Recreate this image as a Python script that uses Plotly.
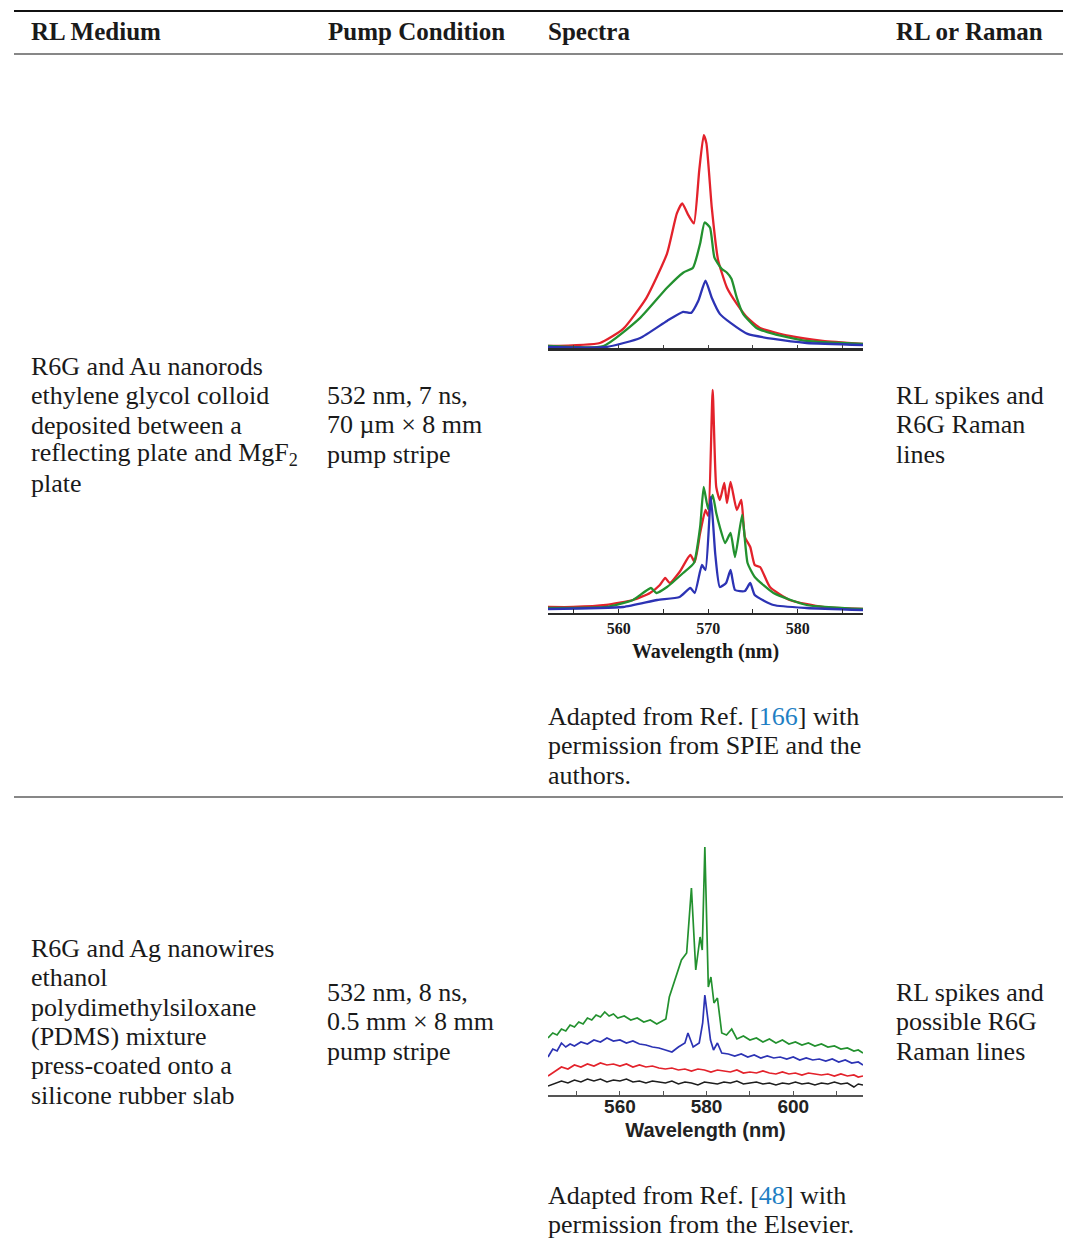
import plotly.graph_objects as go

W, H = 1067, 1241

# ---------------- data ----------------
# Panel 1 (top spectra, R6G + Au nanorods, lower pump)
p1_red_wl = [552.1, 557.9, 560.5, 563.1, 565.4, 566.5, 567.1, 567.8, 568.4, 569.0, 569.5, 569.8, 570.4, 571.1, 572.1, 573.2, 574.4, 575.8, 579.1, 582.8, 587.3]
p1_red = [2, 5, 19, 50, 94, 134, 144, 132, 124, 177, 212, 204, 140, 88, 60, 44, 30, 20, 12, 7, 4]
p1_green_wl = [552.1, 558.3, 562.4, 565.4, 567.2, 568.3, 569.1, 569.6, 570.2, 570.7, 571.5, 572.1, 572.6, 573.2, 573.9, 575.4, 577.3, 581.0, 587.3]
p1_green = [2, 2, 30, 60, 75, 80, 104, 125, 120, 90, 79, 75, 69, 50, 34, 20, 14, 7, 4]
p1_blue_wl = [552.1, 558.6, 562.4, 565.4, 567.2, 568.1, 568.9, 569.7, 570.4, 571.3, 572.5, 574.4, 577.3, 581.0, 587.3]
p1_blue = [1, 1, 10, 27, 36, 35, 47, 67, 50, 34, 25, 14, 9, 5, 3]

# Panel 2 (middle spectra, higher pump, RL spikes)
p2_red_wl = [552.1, 554.9, 558.6, 561.6, 563.5, 564.6, 565.2, 565.7, 566.8, 568.0, 568.5, 569.1, 569.7, 570.0, 570.5, 570.9, 571.3, 571.8, 572.1, 572.5, 573.2, 573.7, 574.1, 574.7, 575.2, 575.8, 576.9, 579.1, 582.8, 587.3]
p2_red = [6, 6, 8, 13, 20, 28, 35, 30, 41, 58, 51, 80, 103, 97, 223, 126, 113, 130, 110, 131, 103, 113, 76, 66, 48, 46, 26, 13, 6, 4]
p2_green_wl = [552.1, 558.6, 561.6, 563.6, 564.2, 565.4, 567.2, 568.4, 569.1, 569.5, 570.0, 570.5, 570.9, 571.3, 571.9, 572.5, 573.0, 573.8, 574.4, 575.2, 577.3, 581.0, 587.3]
p2_green = [5, 6, 13, 25, 20, 26, 40, 50, 86, 126, 104, 118, 100, 86, 70, 80, 56, 98, 50, 36, 20, 8, 4]
p2_blue_wl = [552.1, 560.5, 564.3, 566.8, 568.0, 568.5, 569.3, 569.7, 570.3, 570.8, 571.3, 572.0, 572.5, 573.0, 574.1, 574.7, 575.2, 577.3, 581.0, 587.3]
p2_blue = [4, 6, 13, 16, 25, 20, 48, 43, 116, 58, 26, 30, 43, 23, 22, 30, 18, 8, 5, 3]

# Panel 3 (R6G + Ag nanowires in PDMS)
p3_green_wl = [543.4, 544.5, 545.5, 546.5, 547.5, 548.5, 549.5, 550.5, 551.5, 552.5,
               553.5, 554.5, 555.5, 556.5, 557.5, 558.5, 559.5, 561.0, 562.5, 564.0,
               565.5, 567.0, 568.5, 569.8, 570.6, 571.4, 572.3, 573.1, 574.2, 575.4,
               576.5, 577.5, 578.5, 579.0, 579.6, 580.4, 581.0, 581.7, 582.5, 583.5,
               584.6, 585.8, 587.0, 588.5, 590.0, 591.5, 593.0, 594.5, 596.0, 597.5,
               599.0, 600.5, 602.0, 603.5, 605.0, 606.5, 608.0, 609.5, 611.0, 612.5,
               614.0, 615.0, 616.1]
p3_green = [57, 62, 60, 66, 64, 70, 68, 73, 71, 77,
            75, 80, 78, 83, 79, 81, 77, 79, 75, 77,
            73, 75, 71, 74, 76, 98, 110, 122, 135, 142,
            207, 125, 158, 145, 248, 108, 118, 92, 97, 62,
            60, 66, 56, 59, 55, 57, 53, 56, 52, 55,
            51, 53, 50, 52, 49, 51, 48, 49, 46, 47,
            44, 45, 42]
p3_blue_wl = [543.4, 544.5, 545.5, 546.5, 547.5, 548.5, 549.5, 551.0, 552.5, 554.0,
              555.5, 557.0, 558.5, 560.0, 561.5, 563.0, 564.5, 566.0, 567.5, 569.0,
              570.5, 572.0, 573.5, 575.0, 575.7, 576.9, 578.3, 579.1, 579.6, 580.2,
              580.9, 581.6, 582.5, 583.5, 585.0, 586.5, 588.0, 589.5, 591.0, 592.5,
              594.0, 595.5, 597.0, 598.5, 600.0, 601.5, 603.0, 604.5, 606.0, 607.5,
              609.0, 610.5, 612.0, 613.5, 615.0, 616.1]
p3_blue = [38, 46, 44, 52, 48, 51, 49, 53, 51, 55,
           53, 57, 54, 55, 52, 54, 51, 50, 48, 47,
           45, 43, 48, 52, 62, 48, 52, 72, 100, 78,
           55, 45, 52, 42, 41, 39, 41, 38, 40, 37,
           39, 37, 38, 36, 38, 35, 37, 35, 36, 34,
           36, 33, 35, 32, 33, 30]
p3_base_wl = [543.4, 545.0, 546.5, 548.0, 549.5, 551.0, 552.5, 554.0, 555.5, 557.0,
              558.5, 560.0, 561.5, 563.0, 564.5, 566.0, 567.5, 569.0, 570.5, 572.0,
              573.5, 575.0, 576.5, 578.0, 579.5, 581.0, 582.5, 584.0, 585.5, 587.0,
              588.5, 590.0, 591.5, 593.0, 594.5, 596.0, 597.5, 599.0, 600.5, 602.0,
              603.5, 605.0, 606.5, 608.0, 609.5, 611.0, 612.5, 614.0, 615.0, 616.1]
p3_red = [19, 24, 28, 26, 30, 28, 31, 29, 32, 30,
          31, 29, 31, 28, 30, 28, 29, 27, 26, 27,
          25, 26, 24, 26, 25, 23, 25, 24, 23, 25,
          22, 23, 22, 24, 22, 21, 23, 21, 22, 20,
          22, 21, 20, 21, 19, 21, 19, 20, 18, 19]
p3_black = [9, 12, 14, 12, 15, 13, 16, 14, 16, 13,
            15, 14, 16, 13, 14, 12, 14, 13, 12, 14,
            11, 13, 12, 10, 13, 12, 11, 13, 12, 14,
            11, 12, 13, 11, 12, 10, 12, 11, 13, 11,
            12, 10, 12, 11, 13, 11, 12, 8, 11, 10]

headers = ["RL Medium", "Pump Condition", "Spectra", "RL or Raman"]
row1_medium = ["R6G and Au nanorods", "ethylene glycol colloid", "deposited between a",
               "reflecting plate and MgF<sub>2</sub>", "plate"]
row1_pump = ["532 nm, 7 ns,", "70 µm × 8 mm", "pump stripe"]
row1_type = ["RL spikes and", "R6G Raman", "lines"]
row1_caption = ["Adapted from Ref. [<span style='color:#1f7fc4'>166</span>] with",
                "permission from SPIE and the", "authors."]
row2_medium = ["R6G and Ag nanowires", "ethanol", "polydimethylsiloxane", "(PDMS) mixture",
               "press-coated onto a", "silicone rubber slab"]
row2_pump = ["532 nm, 8 ns,", "0.5 mm × 8 mm", "pump stripe"]
row2_type = ["RL spikes and", "possible R6G", "Raman lines"]
row2_caption = ["Adapted from Ref. [<span style='color:#1f7fc4'>48</span>] with",
                "permission from the Elsevier."]

RED, GREEN, BLUE, BLACK = "#e3222b", "#23912f", "#2c33b4", "#1e1e1e"


def px(x):
    return x / W


def py(y):
    return 1 - y / H


fig = go.Figure()


def add(xs, ys, color, ax, w, spline=True):
    line = dict(color=color, width=w)
    if spline:
        line.update(shape="spline", smoothing=0.5)
    fig.add_trace(go.Scatter(x=xs, y=ys, mode="lines", line=line,
                             xaxis="x" + ax, yaxis="y" + ax, showlegend=False, hoverinfo="skip"))


add(p1_red_wl, p1_red, RED, "", 2.3)
add(p1_green_wl, p1_green, GREEN, "", 2.3)
add(p1_blue_wl, p1_blue, BLUE, "", 2.3)
add(p2_red_wl, p2_red, RED, "2", 2.3)
add(p2_green_wl, p2_green, GREEN, "2", 2.3)
add(p2_blue_wl, p2_blue, BLUE, "2", 2.3)
add(p3_base_wl, p3_black, BLACK, "3", 1.5, False)
add(p3_base_wl, p3_red, RED, "3", 1.7, False)
add(p3_blue_wl, p3_blue, BLUE, "3", 1.7, False)
add(p3_green_wl, p3_green, GREEN, "3", 1.7, False)

xdom = [px(548), px(863)]
serif_tick = dict(family="Liberation Serif", size=16, color="#1a1a1a")
sans_tick = dict(family="Liberation Sans", size=19, color="#222")
yhidden = dict(visible=False, fixedrange=True)

fig.update_layout(
    width=W, height=H, autosize=False,
    margin=dict(l=0, r=0, t=0, b=0, pad=0),
    paper_bgcolor="white", plot_bgcolor="rgba(0,0,0,0)",
    showlegend=False,
    xaxis=dict(domain=xdom, range=[552.1, 587.3], anchor="y", showline=True, linecolor="#2a2a2a", linewidth=3,
               ticks="inside", ticklen=3, tickcolor="#444", tick0=560, dtick=5, showticklabels=False,
               showgrid=False, zeroline=False),
    yaxis=dict(domain=[py(348), py(105)], range=[0, 242], anchor="x", **yhidden),
    xaxis2=dict(domain=xdom, range=[552.1, 587.3], anchor="y2", showline=True, linecolor="#2a2a2a", linewidth=2,
                ticks="inside", ticklen=4, tickcolor="#2a2a2a", tick0=560, dtick=10,
                tickprefix="<b>", ticksuffix="</b>",
                minor=dict(dtick=5, tick0=555, ticks="inside", ticklen=4, tickcolor="#2a2a2a", showgrid=False),
                tickfont=serif_tick, showgrid=False, zeroline=False,
                title=dict(text="<b>Wavelength (nm)</b>",
                           font=dict(family="Liberation Serif", size=20, color="#1a1a1a"), standoff=8)),
    yaxis2=dict(domain=[py(613), py(385)], range=[0, 228], anchor="x2", **yhidden),
    xaxis3=dict(domain=xdom, range=[543.4, 616.1], anchor="y3", showline=True, linecolor="#555", linewidth=1.5,
                ticks="inside", ticklen=4, tickcolor="#555", tick0=560, dtick=20,
                tickprefix="<b>", ticksuffix="</b>", ticklabelstandoff=-7,
                minor=dict(dtick=10, tick0=550, ticks="inside", ticklen=4, tickcolor="#555", showgrid=False),
                tickfont=sans_tick, showgrid=False, zeroline=False,
                title=dict(text="<b>Wavelength (nm)</b>",
                           font=dict(family="Liberation Sans", size=20, color="#222"), standoff=7)),
    yaxis3=dict(domain=[py(1095), py(840)], range=[0, 255], anchor="x3", **yhidden),
)

# ---------------- table rules ----------------


def hline(y, w):
    fig.add_shape(type="line", xref="paper", yref="paper", x0=px(14), x1=px(1063), y0=py(y), y1=py(y),
                  line=dict(color="#111", width=w))


hline(11, 2)
hline(54, 1.2)
hline(797, 1.2)

# ---------------- text ----------------
BODY = dict(family="Liberation Serif", size=26, color="#1a1a1a")
HEAD = dict(family="Liberation Serif", size=25, color="#1a1a1a")


def text(x, y, s, font):
    fig.add_annotation(xref="paper", yref="paper", x=px(x - 2), y=py(y), text=s, showarrow=False,
                       xanchor="left", yanchor="middle", font=font, align="left")


for x, s in zip([31, 328, 548, 896], headers):
    text(x, 32, "<b>%s</b>" % s, HEAD)


def block(x, y0, lines, step=29.3):
    for i, s in enumerate(lines):
        text(x, y0 + i * step, s, BODY)


block(31, 366.5, row1_medium)
block(327, 395.5, row1_pump)
block(896, 395.5, row1_type)
block(548, 716.5, row1_caption)
block(31, 948.5, row2_medium)
block(327, 992.5, row2_pump)
block(896, 992.5, row2_type)
block(548, 1195.5, row2_caption)

fig.write_html("out.html")
